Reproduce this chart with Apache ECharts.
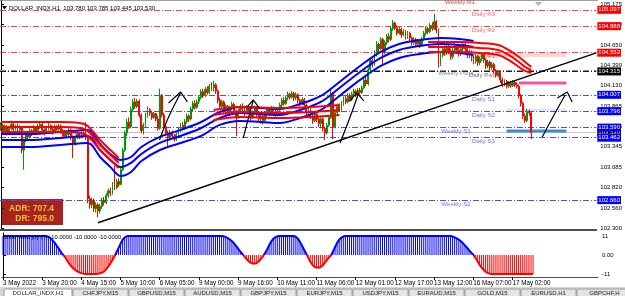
<!DOCTYPE html>
<html>
<head>
<meta charset="utf-8">
<script src="https://cdn.jsdelivr.net/npm/echarts@6/dist/echarts.min.js"></script>
<style>
  html, body { margin: 0; padding: 0; background: #fff; }
  #chart { width: 625px; height: 296px; }
</style>
</head>
<body>
<div id="chart"></div>
<script>
// slots on the time axis (the right part is the empty chart shift)
const slotCount = 289;

// hourly candles: [open, close, low, high]
const candles = [
  [103.58,103.62,103.55,103.66],[103.62,103.55,103.52,103.64],[103.55,103.60,103.53,103.63],[103.60,103.52,103.49,103.62],
  [103.52,103.58,103.50,103.61],[103.58,103.63,103.56,103.68],[103.63,103.57,103.54,103.65],[103.57,103.61,103.55,103.63],
  [103.61,103.56,103.52,103.64],[103.56,103.59,103.53,103.62],[103.59,103.30,103.26,103.61],[103.30,103.42,103.05,103.44],
  [103.42,103.50,103.40,103.54],[103.50,103.47,103.44,103.53],[103.47,103.55,103.45,103.58],[103.55,103.52,103.48,103.57],
  [103.52,103.59,103.50,103.62],[103.59,103.55,103.52,103.61],[103.55,103.60,103.53,103.64],[103.60,103.63,103.57,103.66],
  [103.63,103.56,103.53,103.65],[103.56,103.53,103.49,103.58],[103.53,103.58,103.51,103.61],[103.58,103.62,103.55,103.65],
  [103.62,103.57,103.54,103.63],[103.57,103.54,103.50,103.59],[103.54,103.60,103.52,103.63],[103.60,103.57,103.55,103.62],
  [103.57,103.61,103.54,103.64],[103.61,103.55,103.51,103.63],[103.55,103.48,103.45,103.57],[103.48,103.53,103.46,103.56],
  [103.53,103.50,103.47,103.55],[103.50,103.56,103.48,103.59],[103.56,103.47,103.43,103.58],[103.47,103.38,103.20,103.49],
  [103.38,103.46,103.36,103.49],[103.46,103.51,103.44,103.54],[103.51,103.47,103.44,103.53],[103.47,103.52,103.45,103.55],
  [103.52,103.49,103.46,103.54],[103.49,103.46,103.43,103.66],[103.46,102.68,102.62,103.48],[102.68,102.60,102.55,102.72],
  [102.60,102.66,102.56,102.69],[102.66,102.55,102.51,102.68],[102.55,102.60,102.50,102.63],[102.60,102.52,102.44,102.62],
  [102.52,102.58,102.49,102.61],[102.58,102.66,102.55,102.69],[102.66,102.63,102.59,102.70],[102.63,102.72,102.61,102.75],
  [102.72,102.78,102.69,102.81],[102.78,102.75,102.71,102.82],[102.75,102.86,102.73,102.89],[102.86,102.82,102.79,103.10],
  [102.82,102.90,102.80,102.93],[102.90,102.86,102.83,102.94],[102.86,103.05,102.85,103.08],[103.05,103.30,103.03,103.33],
  [103.30,103.52,103.28,103.55],[103.52,103.66,103.48,103.70],[103.66,103.60,103.57,103.72],[103.60,103.82,103.58,103.86],
  [103.82,103.92,103.80,103.96],[103.92,103.86,103.83,103.97],[103.86,103.93,103.84,103.96],[103.93,103.75,103.72,103.95],
  [103.75,103.55,103.52,103.77],[103.55,103.62,103.50,103.65],[103.62,103.75,103.60,103.78],[103.75,103.82,103.72,103.86],
  [103.82,103.78,103.74,103.84],[103.78,103.72,103.69,103.80],[103.72,103.77,103.70,103.79],[103.77,103.70,103.67,103.78],
  [103.70,103.58,103.55,103.74],[103.58,104.00,103.56,104.09],[104.00,103.75,103.72,104.02],[103.75,103.60,103.57,103.78],
  [103.60,103.52,103.48,103.63],[103.52,103.47,103.33,103.55],[103.47,103.53,103.44,103.56],[103.53,103.48,103.45,103.55],
  [103.48,103.44,103.41,103.51],[103.44,103.50,103.42,103.53],[103.50,103.56,103.47,103.59],[103.56,103.62,103.53,103.65],
  [103.62,103.58,103.55,103.66],[103.58,103.67,103.56,103.70],[103.67,103.74,103.64,103.77],[103.74,103.70,103.66,103.76],
  [103.70,103.83,103.68,103.86],[103.83,103.90,103.80,103.93],[103.90,103.85,103.82,103.94],[103.85,103.92,103.83,103.95],
  [103.92,103.98,103.89,104.00],[103.98,104.05,103.95,104.08],[104.05,104.00,103.97,104.09],[104.00,104.08,103.98,104.11],
  [104.08,104.04,104.01,104.12],[104.04,104.12,104.02,104.15],[104.12,104.10,104.06,104.17],[104.10,104.14,104.05,104.19],
  [104.14,104.06,104.02,104.16],[104.06,103.94,103.90,104.08],[103.94,103.86,103.83,103.97],[103.86,103.92,103.84,103.95],
  [103.92,103.80,103.76,103.94],[103.80,103.86,103.73,103.89],[103.86,103.78,103.74,103.88],[103.78,103.84,103.75,103.87],
  [103.84,103.89,103.81,103.92],[103.89,103.80,103.77,103.91],[103.80,103.72,103.48,103.82],[103.72,103.80,103.70,103.83],
  [103.80,103.86,103.77,103.89],[103.86,103.82,103.79,103.90],[103.82,103.78,103.74,103.84],[103.78,103.85,103.76,103.88],
  [103.85,103.80,103.77,103.87],[103.80,103.72,103.68,103.82],[103.72,103.78,103.70,103.81],[103.78,103.84,103.75,103.87],
  [103.84,103.76,103.72,103.86],[103.76,103.70,103.66,103.78],[103.70,103.74,103.64,103.77],[103.74,103.68,103.63,103.76],
  [103.68,103.75,103.66,103.78],[103.75,103.82,103.72,103.85],[103.82,103.78,103.74,103.84],[103.78,103.84,103.76,103.87],
  [103.84,103.80,103.76,103.86],[103.80,103.76,103.72,103.82],[103.76,103.83,103.74,103.85],[103.83,103.88,103.80,103.91],
  [103.88,103.94,103.85,103.97],[103.94,103.90,103.87,103.98],[103.90,103.97,103.88,104.00],[103.97,104.02,103.94,104.05],
  [104.02,103.98,103.95,104.04],[103.98,104.03,103.96,104.06],[104.03,103.97,103.93,104.05],[103.97,104.01,103.94,104.04],
  [104.01,103.94,103.90,104.03],[103.94,103.90,103.86,103.96],[103.90,103.95,103.88,103.98],[103.95,103.88,103.85,103.97],
  [103.88,103.78,103.74,103.90],[103.78,103.83,103.75,103.86],[103.83,103.74,103.70,103.85],[103.74,103.68,103.64,103.77],
  [103.68,103.76,103.66,103.79],[103.76,103.70,103.66,103.78],[103.70,103.64,103.60,103.72],[103.64,103.70,103.58,103.73],
  [103.70,103.58,103.54,103.72],[103.58,103.52,103.43,103.60],[103.52,103.62,103.50,103.65],[103.62,103.72,103.60,103.75],
  [103.72,104.02,103.70,104.10],[104.02,103.60,103.44,104.04],[103.60,103.78,103.58,103.82],[103.78,103.86,103.75,103.90],
  [103.86,103.82,103.79,103.90],[103.82,103.90,103.80,103.93],[103.90,103.96,103.87,103.99],[103.96,103.92,103.89,104.00],
  [103.92,104.00,103.90,104.03],[104.00,103.95,103.92,104.03],[103.95,104.02,103.93,104.05],[104.02,104.06,103.99,104.09],
  [104.06,104.01,103.98,104.08],[104.01,104.07,103.99,104.10],[104.07,104.04,104.01,104.10],[104.04,104.10,104.02,104.13],
  [104.10,104.20,104.08,104.23],[104.20,104.15,104.12,104.24],[104.15,104.33,104.13,104.36],[104.33,104.45,104.30,104.48],
  [104.45,104.40,104.36,104.48],[104.40,104.55,104.38,104.58],[104.55,104.66,104.50,104.70],[104.66,104.60,104.56,104.68],
  [104.60,104.72,104.58,104.75],[104.72,104.55,104.40,104.74],[104.55,104.68,104.53,104.71],[104.68,104.76,104.65,104.79],
  [104.76,104.72,104.68,104.80],[104.72,104.86,104.70,104.89],[104.86,104.93,104.83,104.97],[104.93,104.87,104.84,104.95],
  [104.87,104.80,104.77,104.90],[104.80,104.85,104.78,104.88],[104.85,104.78,104.74,104.87],[104.78,104.82,104.76,104.85],
  [104.82,104.76,104.72,104.84],[104.76,104.80,104.73,104.83],[104.80,104.74,104.70,104.82],[104.74,104.68,104.64,104.76],
  [104.68,104.72,104.65,104.75],[104.72,104.66,104.62,104.74],[104.66,104.70,104.63,104.73],[104.70,104.65,104.61,104.72],
  [104.65,104.72,104.63,104.75],[104.72,104.80,104.70,104.83],[104.80,104.86,104.77,104.89],[104.86,104.82,104.79,104.88],
  [104.82,104.90,104.80,104.93],[104.90,104.86,104.83,104.94],[104.86,104.95,104.84,105.05],[104.95,104.84,104.80,104.97],
  [104.84,104.40,104.36,104.86],[104.40,104.52,104.38,104.56],[104.52,104.60,104.49,104.63],[104.60,104.55,104.51,104.64],
  [104.55,104.62,104.52,104.65],[104.62,104.57,104.53,104.66],[104.57,104.50,104.46,104.60],[104.50,104.58,104.47,104.61],
  [104.58,104.64,104.55,104.68],[104.64,104.58,104.54,104.66],[104.58,104.54,104.50,104.61],[104.54,104.60,104.51,104.63],
  [104.60,104.66,104.57,104.69],[104.66,104.60,104.56,104.68],[104.60,104.52,104.48,104.62],[104.52,104.56,104.48,104.59],
  [104.56,104.48,104.44,104.58],[104.48,104.44,104.40,104.51],[104.44,104.50,104.41,104.53],[104.50,104.42,104.38,104.52],
  [104.42,104.47,104.39,104.50],[104.47,104.53,104.44,104.56],[104.53,104.46,104.42,104.55],[104.46,104.38,104.34,104.48],
  [104.38,104.43,104.35,104.46],[104.43,104.36,104.32,104.45],[104.36,104.40,104.33,104.43],[104.40,104.32,104.28,104.42],
  [104.32,104.26,104.23,104.34],[104.26,104.30,104.24,104.33],[104.30,104.20,104.16,104.32],[104.20,104.14,104.11,104.23],
  [104.14,104.18,104.12,104.21],[104.18,104.12,104.09,104.20],[104.12,104.16,104.10,104.19],[104.16,104.13,104.10,104.19],
  [104.13,104.17,104.11,104.20],[104.17,104.14,104.11,104.19],[104.14,104.12,104.09,104.17],[104.12,104.00,103.96,104.14],
  [104.00,103.90,103.86,104.02],[103.90,103.74,103.70,103.92],[103.74,103.68,103.65,103.77],[103.68,103.80,103.66,103.83],
  [103.80,103.78,103.74,103.82],[103.780,103.530,103.445,103.785]
];

// oscillator in the lower window, one value per candle
const oscValues = [
  11,11,11,11,11,11,11,11,11,11,
  11,11,11,11,11,11,11,11,11,11,
  11,10.9,10.6,9.8,8.5,7.2,5.5,3.8,2.0,0.3,
  -1.0,-3.0,-4.8,-6.4,-7.7,-8.7,-9.5,-10.1,-10.5,-10.8,
  -11,-11,-11,-11,-11,-11,-10.9,-10.6,-10.2,-9.5,
  -8.3,-6.8,-5.0,-3.0,-1.0,1.5,4.0,6.5,8.8,10.2,
  10.8,11,11,11,11,11,11,11,11,11,
  11,11,11,11,11,11,11,11,11,11,
  11,11,11,11,11,11,11,11,11,11,
  11,11,11,11,11,11,11,11,11,11,
  11,11,11,11,11,11,11,10.8,10.4,9.8,
  9.0,8.0,6.8,5.3,3.7,2.1,0.6,-0.8,-2.2,-3.5,
  -4.4,-4.9,-5.0,-4.6,-3.7,-2.4,-0.9,1.0,3.0,5.5,
  7.8,9.3,10.3,10.8,11,11,11,11,11,11,
  11,11,10.6,9.4,7.6,5.4,3.0,0.8,-1.5,-3.8,
  -5.6,-6.8,-7.3,-7.4,-7.0,-6.0,-4.6,-3.0,-1.5,-0.3,
  2.0,4.6,7.0,8.8,10.0,10.7,11,11,11,11,
  11,11,11,11,11,11,11,11,11,11,
  11,11,11,11,11,11,11,11,11,11,
  11,11,11,11,11,11,11,11,11,11,
  11,11,11,11,11,11,11,11,11,11,
  11,11,11,11,11,11,11,11,10.7,10.2,
  9.6,8.9,8.0,6.9,5.6,4.2,2.8,1.4,0.2,-1.5,
  -3.5,-5.5,-7.2,-8.6,-9.7,-10.4,-10.8,-11,-11,-11,
  -11,-11,-11,-11,-11,-11,-11,-11,-11,-11,
  -11,-11,-11,-11,-11,-11,-11,-11
];

// moving-average ribbons, [bar, price] points
const blueUpper = [[0,103.508],[14,103.508],[29,103.534],[42,103.560],[48,103.380],[53,103.252],[58,103.175],[63,103.213],[68,103.341],[77,103.470],[87,103.560],[97,103.662],[106,103.790],[116,103.854],[126,103.842],[135,103.829],[145,103.893],[155,103.996],[164,104.175],[174,104.380],[184,104.560],[193,104.662],[203,104.713],[213,104.739],[222,104.726],[229,104.701]];
const blueMid = [[0,103.431],[14,103.431],[29,103.457],[42,103.483],[48,103.303],[53,103.175],[58,103.085],[63,103.137],[68,103.252],[77,103.393],[87,103.483],[97,103.585],[106,103.713],[116,103.777],[126,103.765],[135,103.752],[145,103.816],[155,103.919],[164,104.098],[174,104.303],[184,104.483],[193,104.585],[203,104.637],[213,104.662],[222,104.649],[229,104.624]];
const blueLower = [[0,103.341],[14,103.341],[29,103.367],[42,103.393],[48,103.213],[53,103.085],[58,102.970],[63,103.021],[68,103.162],[77,103.303],[87,103.393],[97,103.483],[106,103.624],[116,103.675],[126,103.662],[135,103.649],[145,103.713],[155,103.816],[164,103.996],[174,104.201],[184,104.380],[193,104.483],[203,104.534],[213,104.560],[222,104.547],[229,104.521]];
const redUpper = [[0,103.662],[14,103.662],[29,103.662],[38,103.649],[42,103.611],[48,103.431],[53,103.303],[57,103.201],[57,null],
  [103,103.816],[116,103.854],[135,103.842],[150,103.854],[164,103.880],[164,null],
  [207,104.688],[222,104.688],[232,104.675],[241,104.649],[246,104.585],[251,104.495],[254,104.431],[257,104.367]];
const redMid = [[0,103.598],[14,103.598],[29,103.598],[38,103.585],[42,103.547],[48,103.367],[53,103.239],[57,103.137],[57,null],
  [103,103.752],[116,103.790],[135,103.777],[150,103.790],[164,103.816],[164,null],
  [207,104.624],[222,104.624],[232,104.611],[241,104.585],[246,104.521],[251,104.431],[254,104.367],[257,104.329]];
const redLower = [[0,103.534],[14,103.534],[29,103.534],[38,103.521],[42,103.483],[48,103.303],[53,103.175],[57,103.072],[57,null],
  [103,103.688],[116,103.726],[135,103.713],[150,103.726],[164,103.752],[164,null],
  [207,104.560],[222,104.560],[232,104.547],[241,104.521],[246,104.457],[251,104.367],[254,104.316],[257,104.290]];

// pivot levels
const levelNames  = ['Daily R3','Daily R2','Daily R1','Daily Pivot','Weekly Pivot','Daily S1','Daily S2','Weekly S1','Daily S3','Weekly S2'];
const levelPrices = [105.097, 104.888, 104.552, 104.315, 104.335, 104.007, 103.796, 103.590, 103.462, 102.660];
const levelKinds  = ['R','R','R','P','WP','S','S','WS','S','WS'];
const bidPrice = 103.530;

// drawn objects
const trendLine = [[47,102.37],[288.5,104.547]];
const arrowStems = [
  [[76.8,103.431],[81,103.713],[87,104.034]],
  [[117.4,103.457],[120.3,103.752],[122.2,103.932]],
  [[164.3,103.393],[169,103.713],[173,104.008]],
  [[262.3,103.470],[268,103.752],[273.4,104.008]]
];
const arrowHeads = [
  [[81.2,103.906],[87,104.047],[90.3,103.919]],
  [[119.3,103.854],[122.2,103.944],[125.1,103.842]],
  [[169,103.932],[172.5,104.034],[175.8,103.932]],
  [[269.6,103.970],[274.4,104.047],[276.8,103.919]]
];
const zonePale  = [[228,104.521],[274,104.521]];
const zonePink  = [[251,104.162],[274,104.162]];
const zoneLilac = [[245,103.816],[274,103.816]];
const zoneBlue  = [[245,103.547],[274,103.547]];

// axes
const priceTicks = [102.300,102.560,102.820,103.085,103.345,103.605,103.865,104.130,104.390,104.650,104.910,105.175];
const oscTicks = [11, 0, -11];
const timeTickIdx = [0,19,38,57,76,95,114,133,152,171,190,209,228,247];
const timeTickLabels = ['3 May 2022','3 May 20:00','4 May 15:00','5 May 10:00','6 May 05:00','9 May 00:00','9 May 16:00',
  '10 May 11:00','11 May 06:00','12 May 01:00','12 May 17:00','13 May 12:00','16 May 07:00','17 May 02:00'];

const headerText = 'DOLLAR_INDX,H1  103.780 103.785 103.445 103.530';
const oscTitle = 'Solar wind joy (?) -10.0000 -10.0000 -10.0000';
const adrText = 'ADR: 707.4';
const drText = 'DR: 795.0';
const tabNames = ['DOLLAR_INDX,H1','CHFJPY,M15','GBPUSD,M15','AUDUSD,M15','GBPJPY,M15','EURJPY,M15','USDJPY,M15','EURAUD,M15','GOLD,M15','EURUSD,H1','GBPCHF,H'];

const FONT = 'Liberation Sans';
const OSC_UP = '#0000ff';
const OSC_DOWN = '#ff0000';
const kindLine = { R: '#ff4040', S: '#4c4cff', WS: '#4c4cff', P: '#202020', WP: '#8c8c8c' };
const kindText = { R: '#ff3b3b', S: '#4646ff', WS: '#4646ff', P: '#4a4a4a', WP: '#666666' };
const kindBox  = { R: '#ff0000', S: '#0000ff', WS: '#0000ff', P: '#000000' };

const chart = echarts.init(document.getElementById('chart'), null, { renderer: 'canvas' });

const boxLabel = (text, bg) => ({
  show: true, position: 'end', distance: 1, formatter: text, color: '#fff', backgroundColor: bg,
  fontSize: 6, fontFamily: FONT, padding: [1, 1, 0, 1], lineHeight: 7
});
const levelMarks = [{
  yAxis: bidPrice,
  lineStyle: { color: '#c8c8c8', width: 1, type: 'solid' },
  label: boxLabel(bidPrice.toFixed(3), '#000')
}].concat(levelPrices.map((p, k) => ({
  yAxis: p,
  lineStyle: { color: kindLine[levelKinds[k]], width: 1, type: [6, 2, 1, 2] },
  label: levelKinds[k] === 'WP' ? { show: false } : boxLabel(p.toFixed(3), kindBox[levelKinds[k]])
})));

const levelLabelData = levelNames.map((n, k) => ({
  name: n,
  value: [levelKinds[k] === 'WS' || levelKinds[k] === 'WP' ? 220.5 : 233.8, levelPrices[k]],
  label: { color: kindText[levelKinds[k]] }
}));

const ribbon = (data, color) => ({
  type: 'line', data, xAxisIndex: 0, yAxisIndex: 0, symbol: 'none', smooth: 0.35,
  lineStyle: { color, width: 2 }, z: 3, silent: true, connectNulls: false
});
const drawn = (data, color, width, z) => ({
  type: 'line', data, xAxisIndex: 0, yAxisIndex: 0, symbol: 'none',
  lineStyle: { color, width }, z: z || 4, silent: true
});

const series = [
  {
    type: 'scatter', xAxisIndex: 0, yAxisIndex: 0, symbolSize: 0, z: 1, silent: true,
    data: levelLabelData,
    label: { show: true, position: 'bottom', distance: 1, formatter: p => p.name, fontSize: 6.2, fontFamily: FONT }
  },
  drawn(zonePale, '#ffd4d4', 4, 1),
  drawn(zonePink, '#f2559a', 3, 1),
  drawn(zoneLilac, '#c9c9ff', 1, 1),
  drawn(zoneBlue, '#3b8de0', 3, 1),
  {
    type: 'candlestick', xAxisIndex: 0, yAxisIndex: 0, z: 2,
    data: candles.map((c, i) => [i, c[0], c[1], c[2], c[3]]),
    encode: { x: 0, y: [1, 2, 3, 4] },
    barWidth: 1.4,
    itemStyle: { color: '#009a00', color0: '#ff0000', borderColor: '#009a00', borderColor0: '#ff0000', borderWidth: 1 },
    markLine: { z: 1, silent: true, symbol: ['none', 'none'], animation: false, data: levelMarks }
  },
  ribbon(blueUpper, '#0000ff'), ribbon(blueMid, '#0000ff'), ribbon(blueLower, '#0000ff'),
  ribbon(redUpper, '#ff0000'), ribbon(redMid, '#ff0000'), ribbon(redLower, '#ff0000'),
  drawn(trendLine, '#000', 1.4)
];
arrowStems.forEach(a => series.push(Object.assign(drawn(a, '#000', 1.2), { smooth: 0.4 })));
arrowHeads.forEach(a => series.push(drawn(a, '#000', 1.2)));

// lower window: histogram plus its outline, blue above zero and red below
series.push({
  type: 'bar', xAxisIndex: 1, yAxisIndex: 1, barWidth: 1, silent: true,
  data: oscValues.map((v, i) => [i, v]),
  itemStyle: { color: p => (p.value[1] >= 0 ? OSC_UP : OSC_DOWN) }
});
series.push({
  type: 'line', xAxisIndex: 1, yAxisIndex: 1, symbol: 'none', silent: true, z: 3,
  data: oscValues.map((v, i) => [i, v]),
  lineStyle: {
    width: 2,
    color: { type: 'linear', x: 0, y: 233, x2: 0, y2: 277, global: true,
      colorStops: [{ offset: 0, color: OSC_UP }, { offset: 0.5, color: OSC_UP }, { offset: 0.5, color: OSC_DOWN }, { offset: 1, color: OSC_DOWN }] }
  }
});

const tabGraphics = [];
let tx = 4;
tabNames.forEach((name, k) => {
  const w = k === 0 ? 68 : 55;
  tabGraphics.push({ type: 'rect', shape: { x: tx, y: 289, width: w, height: 9 },
    style: { fill: k === 0 ? '#ffffff' : '#e4e4e4', stroke: '#9a9a9a', lineWidth: 1 } });
  tabGraphics.push({ type: 'text', x: tx + w / 2, y: 293.5,
    style: { text: name, fill: '#222', font: '6px ' + FONT, textAlign: 'center', textVerticalAlign: 'middle' } });
  tx += w + 1;
});

chart.setOption({
  animation: false,
  backgroundColor: '#fff',
  grid: [
    { left: 0, right: 27, top: 1, height: 229 },
    { left: 0, right: 27, top: 233, height: 44 }
  ],
  xAxis: [
    { type: 'value', gridIndex: 0, min: -0.5, max: slotCount - 0.5,
      axisLine: { show: true, onZero: false, lineStyle: { color: '#505050', width: 2 } },
      axisTick: { show: false }, axisLabel: { show: false }, splitLine: { show: false } },
    { type: 'value', gridIndex: 1, min: -0.5, max: slotCount - 0.5,
      axisLine: { show: true, onZero: false, lineStyle: { color: '#505050', width: 1 } },
      axisTick: { show: true, customValues: timeTickIdx, length: 3, lineStyle: { color: '#000' } },
      axisLabel: { show: true, customValues: timeTickIdx, align: 'left', margin: 3, fontSize: 6.3, fontFamily: FONT, color: '#000',
        formatter: v => timeTickLabels[timeTickIdx.indexOf(Math.round(v))] || '' },
      splitLine: { show: false } }
  ],
  yAxis: [
    { type: 'value', gridIndex: 0, position: 'right', min: 102.277, max: 105.213,
      axisLine: { show: true, lineStyle: { color: '#000' } },
      axisTick: { show: true, customValues: priceTicks, length: 3, lineStyle: { color: '#000' } },
      axisLabel: { show: true, customValues: priceTicks, margin: 4, fontSize: 6, fontFamily: FONT, color: '#000',
        formatter: v => v.toFixed(3) },
      splitLine: { show: false } },
    { type: 'value', gridIndex: 1, position: 'right', min: -12.74, max: 12.74,
      axisLine: { show: true, lineStyle: { color: '#000' } },
      axisTick: { show: true, customValues: oscTicks, length: 3, lineStyle: { color: '#000' } },
      axisLabel: { show: true, customValues: oscTicks, margin: 4, fontSize: 6, fontFamily: FONT, color: '#000',
        formatter: v => (v === 0 ? '0.00' : String(v)) },
      splitLine: { show: false } }
  ],
  series,
  graphic: [
    { type: 'line', shape: { x1: 0, y1: 0.5, x2: 598, y2: 0.5 }, style: { stroke: '#a0a0a0', lineWidth: 1 } },
    { type: 'polygon', shape: { points: [[2, 6], [7, 6], [4.5, 9.5]] }, style: { fill: '#000' } },
    { type: 'text', x: 9, y: 8, style: { text: headerText, fill: '#000', font: '6px ' + FONT, textVerticalAlign: 'middle' } },
    { type: 'text', x: 460, y: 2.5, style: { text: 'Weekly R1', fill: '#ff3b3b', font: '6.2px ' + FONT, textAlign: 'center', textVerticalAlign: 'middle' } },
    { type: 'polygon', shape: { points: [[535, 2], [542, 2], [538.5, 6]] }, style: { fill: '#b0b0b0' } },
    { type: 'rect', shape: { x: 2, y: 199, width: 61, height: 26 }, style: { fill: '#a8231e' } },
    { type: 'text', x: 54, y: 208.5, style: { text: adrText, fill: '#f3c33c', font: 'bold 8.5px ' + FONT, textAlign: 'right', textVerticalAlign: 'middle' } },
    { type: 'text', x: 54, y: 218.5, style: { text: drText, fill: '#f3c33c', font: 'bold 8.5px ' + FONT, textAlign: 'right', textVerticalAlign: 'middle' } },
    { type: 'text', x: 3, y: 237.5, z: 10, style: { text: oscTitle, fill: '#000', font: '5.8px ' + FONT, textVerticalAlign: 'middle' } },
    { type: 'rect', shape: { x: 0, y: 287, width: 625, height: 9 }, style: { fill: '#d8d8d8' } }
  ].concat(tabGraphics)
});
</script>
</body>
</html>
